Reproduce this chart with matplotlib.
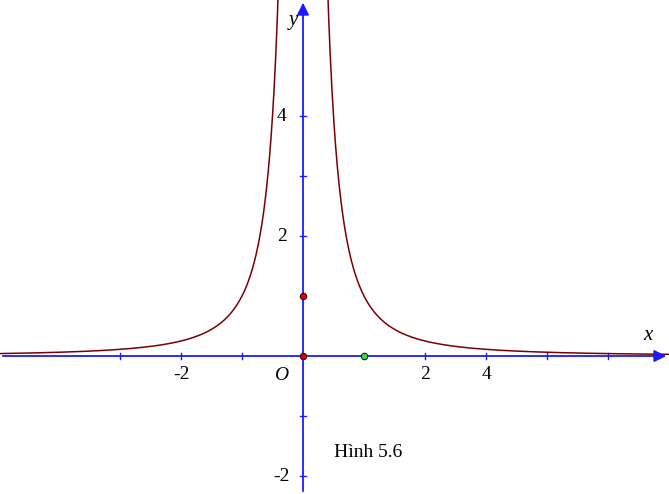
import numpy as np
import matplotlib
matplotlib.use("Agg")
import matplotlib.pyplot as plt

xticks = [-3, -2, -1, 1, 2, 3, 4, 5]
xtick_labels = {-2: "-2", 2: "2", 3: "4"}
yticks = [-2, -1, 1, 2, 3, 4]
ytick_labels = {-2: "-2", 2: "2", 4: "4"}
red_points_x = [0, 0]
red_points_y = [0, 1]
green_points_x = [1]
green_points_y = [0]

fig = plt.figure(figsize=(6.69, 4.94), dpi=100)
ax = fig.add_axes([0, 0, 1, 1])
xmin, xmax = -303/61, (669-303)/61
ymin, ymax = -(494-356)/60, 356/60
ax.set_xlim(xmin, xmax); ax.set_ylim(ymin, ymax)
ax.axis("off")

blue = "#1a1aff"
ax.annotate("", xy=(xmax, 0), xytext=(xmin, 0),
            arrowprops=dict(arrowstyle="-|>", color=blue, lw=1.3, mutation_scale=18))
ax.annotate("", xy=(0, ymax), xytext=(0, ymin),
            arrowprops=dict(arrowstyle="-|>", color=blue, lw=1.3, mutation_scale=18))
for t in xticks:
    ax.plot([t, t], [-0.05, 0.05], color=blue, lw=1)
for t in yticks:
    ax.plot([-0.05, 0.05], [t, t], color=blue, lw=1)

ff = "Liberation Serif"
for t, s in xtick_labels.items():
    ax.text(t, -0.3, s, ha="center", va="center", fontsize=14, family=ff)
for t, s in ytick_labels.items():
    ax.text(-0.35, t, s, ha="center", va="center", fontsize=14, family=ff)
ax.text(-0.36, -0.32, "O", ha="center", va="center", fontsize=14, family=ff, style="italic")
ax.text(5.65, 0.35, "x", ha="center", va="center", fontsize=15, family=ff, style="italic")
ax.text(-0.15, 5.6, "y", ha="center", va="center", fontsize=15, family=ff, style="italic")
ax.text(0.5, -1.6, "Hình 5.6", ha="left", va="center", fontsize=14, family=ff)

col = "#7a0000"
for xs in (np.linspace(xmin, -0.1, 600), np.linspace(0.1, xmax, 600)):
    ax.plot(xs, 1/xs**2, color=col, lw=1.1)

ax.scatter(red_points_x, red_points_y, s=22, color="#e00000", edgecolor="black", linewidth=0.6, zorder=5)
ax.scatter(green_points_x, green_points_y, s=22, color="#33dd33", edgecolor="black", linewidth=0.6, zorder=5)

fig.savefig("out.png", dpi=100)
